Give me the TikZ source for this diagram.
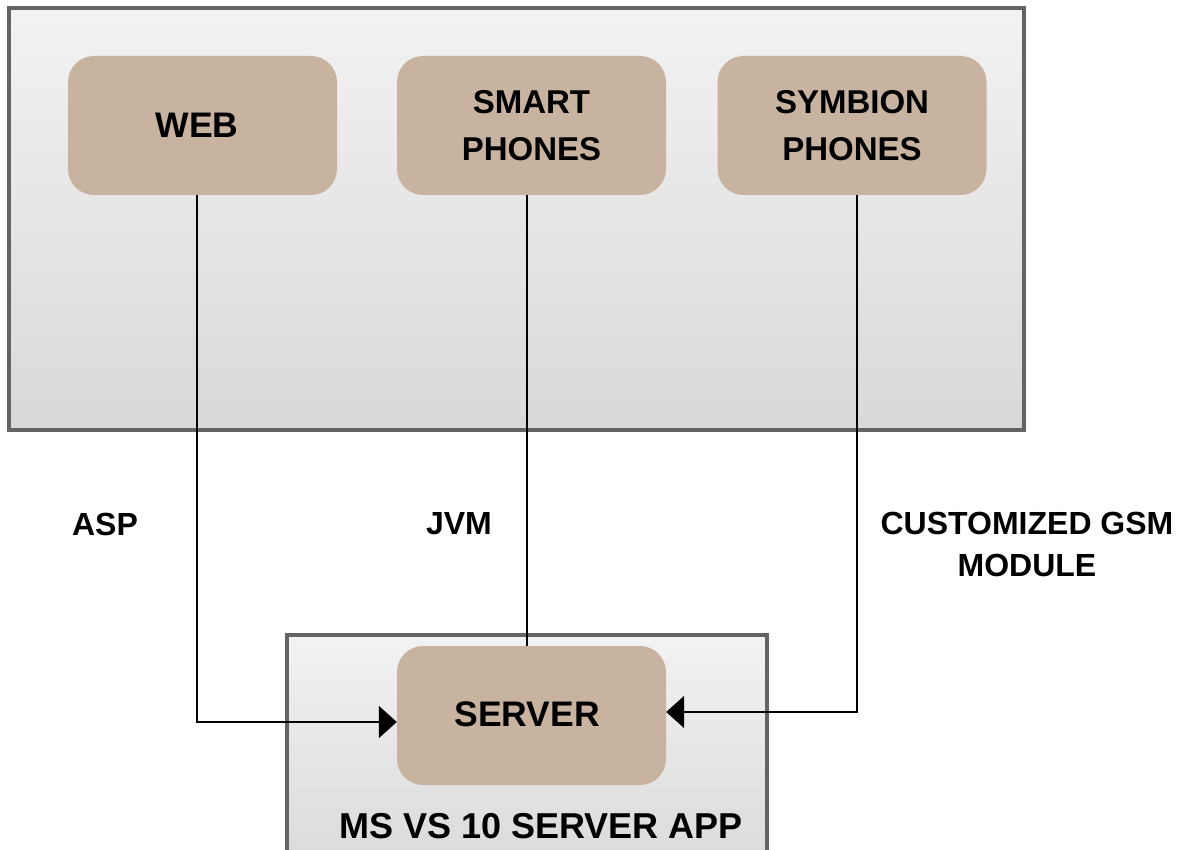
\documentclass[tikz,border=0pt]{standalone}
\usepackage{fontspec}
\setmainfont{Liberation Sans}
\usetikzlibrary{arrows.meta,calc}
\definecolor{tan}{HTML}{C8B2A0}
\definecolor{frame}{HTML}{646464}
\tikzset{
  panel/.style={draw=frame, line width=3.5pt, top color=white!95!black, bottom color=black!15},
  block/.style={fill=tan, rounded corners=26pt, minimum width=269pt, minimum height=139pt,
                align=center, font=\fontsize{33}{47}\selectfont\bfseries, inner sep=0pt},
  bigtext/.style={font=\fontsize{35.5}{47}\selectfont\bfseries, inner sep=0pt},
  tag/.style={align=center, font=\fontsize{32}{42}\selectfont\bfseries, inner sep=0pt},
  link/.style={draw=black, line width=2pt},
  tip/.style={-{Triangle[length=18pt,width=32pt]}}
}
\begin{document}
\begin{tikzpicture}[x=1pt,y=-1pt]
  \useasboundingbox (0,0) rectangle (1179,850);
  \clip (0,0) rectangle (1179,850);
  \fill[white] (0,0) rectangle (1179,850);

  % client tier
  \draw[panel] (9,8) rectangle (1024,430);
  \node[block] (web)   at (202.5,125.5) {};
  \node[bigtext] (weblabel) at (197,125) {WEB};
  \node[block] (smart) at (531.5,125.5) {SMART\\PHONES};
  \node[block] (symb)  at (852,125.5)   {SYMBION\\PHONES};

  % server tier (continues below the page edge)
  \draw[panel] (287,635) rectangle (767,880);
  \node[block] (server) at (531.5,715.5) {};
  \node[bigtext] (srvlabel) at (527,714) {SERVER};
  \node[tag,font=\fontsize{36}{42}\selectfont\bfseries] (app) at (541,826) {MS VS 10 SERVER APP};

  % connectors
  \coordinate (wturn) at (197,722);
  \coordinate (sturn) at (857,712);
  \draw[link,tip] (web.south -| wturn) -- (wturn) -- (wturn -| server.west);
  \draw[link] (smart.south -| 527,0) -- (server.north -| 527,0);
  \draw[link,tip] (symb.south -| sturn) -- (sturn) -- (sturn -| server.east);

  % protocol labels
  \node[tag] (asp) at (105,524) {ASP};
  \node[tag] (jvm) at (459,524) {JVM};
  \node[tag] (gsm) at (1027,544) {CUSTOMIZED GSM\\MODULE};
\end{tikzpicture}
\end{document}
